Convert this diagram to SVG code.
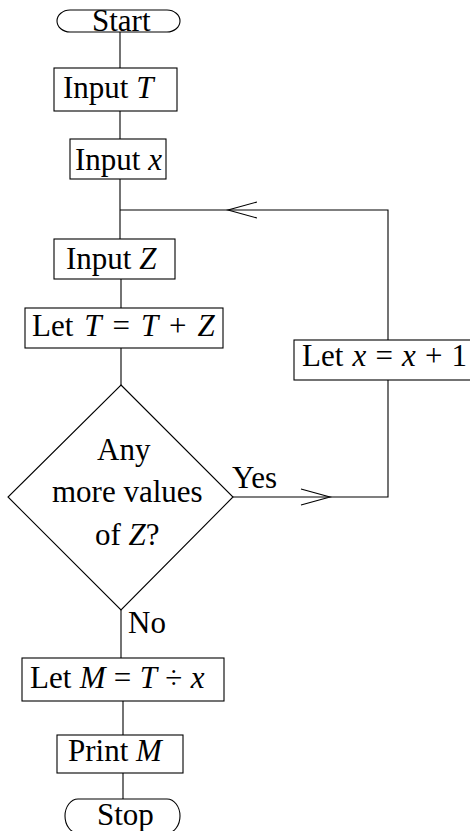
<svg xmlns="http://www.w3.org/2000/svg" width="470" height="831" viewBox="0 0 470 831">
<style>
  .box { fill: #fff; stroke: #000; stroke-width: 1.1; }
  .ln { fill: none; stroke: #000; stroke-width: 1.1; }
  text { font-family: "Liberation Serif", "Times New Roman", serif; font-size: 31px; fill: #000; }
  .i { font-style: italic; }
</style>
<defs>
  <marker id="arr" markerUnits="userSpaceOnUse" markerWidth="40" markerHeight="24" viewBox="-32 -12 40 24" refX="0" refY="0" orient="auto">
    <path d="M -29 -8 L 0 0 L -29 8" fill="none" stroke="#000" stroke-width="1.1"/>
  </marker>
</defs>
<g id="connectors">
  <line class="ln" x1="120" y1="32" x2="120" y2="68"/>
  <line class="ln" x1="120" y1="111" x2="120" y2="139"/>
  <line class="ln" x1="120" y1="179" x2="120" y2="239"/>
  <line class="ln" x1="121" y1="279" x2="121" y2="308"/>
  <line class="ln" x1="121" y1="348" x2="121" y2="385"/>
  <line class="ln" x1="121" y1="610" x2="121" y2="658"/>
  <line class="ln" x1="123" y1="701" x2="123" y2="735"/>
  <line class="ln" x1="123" y1="773" x2="123" y2="799"/>
  <polyline class="ln" points="388,340 388,210 228,210" marker-end="url(#arr)"/>
  <line class="ln" x1="228" y1="210" x2="120" y2="210"/>
  <line class="ln" x1="233" y1="497" x2="330" y2="497" marker-end="url(#arr)"/>
  <polyline class="ln" points="330,497 388,497 388,380"/>
  <text x="232" y="488">Yes</text>
  <text x="128" y="633">No</text>
</g>
<g id="start">
  <path class="box" d="M 70 10 H 167 A 13 11 0 0 1 167 32 H 70 A 13 11 0 0 1 70 10 Z"/>
  <text x="92" y="31">Start</text>
</g>
<g id="input-t">
  <rect class="box" x="54" y="68" width="123" height="43"/>
  <text x="63" y="98">Input <tspan class="i">T</tspan></text>
</g>
<g id="input-x">
  <rect class="box" x="70" y="139" width="96" height="40"/>
  <text x="75" y="170">Input <tspan class="i">x</tspan></text>
</g>
<g id="input-z">
  <rect class="box" x="54" y="239" width="121" height="40"/>
  <text x="66" y="269">Input <tspan class="i">Z</tspan></text>
</g>
<g id="let-t">
  <rect class="box" x="25" y="308" width="198" height="40"/>
  <text x="32" y="336" word-spacing="3.2">Let <tspan class="i">T</tspan> = <tspan class="i">T</tspan> + <tspan class="i">Z</tspan></text>
</g>
<g id="let-x">
  <rect class="box" x="294" y="340" width="180" height="40"/>
  <text x="302" y="366" word-spacing="1.4">Let <tspan class="i">x</tspan> = <tspan class="i">x</tspan> + 1</text>
</g>
<g id="decision">
  <polygon class="box" points="121,385 233,497 121,610 8,497"/>
  <text x="97" y="460">Any</text>
  <text x="52" y="502">more values</text>
  <text x="95" y="545">of <tspan class="i">Z</tspan>?</text>
</g>
<g id="let-m">
  <rect class="box" x="22" y="658" width="202" height="43"/>
  <text x="30" y="688" word-spacing="0.6">Let <tspan class="i">M</tspan> = <tspan class="i">T</tspan> ÷ <tspan class="i">x</tspan></text>
</g>
<g id="print-m">
  <rect class="box" x="57" y="735" width="126" height="38"/>
  <text x="68" y="761">Print <tspan class="i">M</tspan></text>
</g>
<g id="stop">
  <path class="box" d="M 78 799 H 167 A 13 17 0 0 1 167 833 H 78 A 13 17 0 0 1 78 799 Z"/>
  <text x="97" y="825">Stop</text>
</g>
</svg>
